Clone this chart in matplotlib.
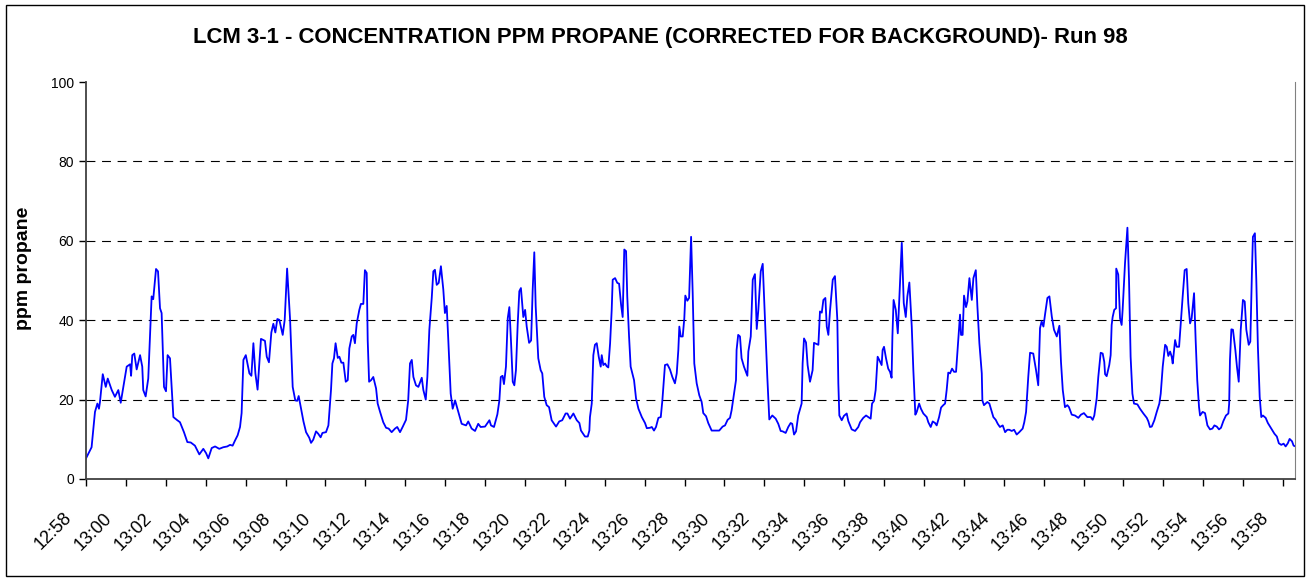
import matplotlib.pyplot as plt
import matplotlib.transforms as mtransforms
from matplotlib.patches import Rectangle

plt.rcParams['font.family'] = ['Liberation Sans', 'DejaVu Sans']

# minutes after 12:58 and ppm propane
minutes = [
    0.00, 0.28, 0.45, 0.57, 0.65, 0.70, 0.84, 0.99, 1.09, 1.29, 1.45, 1.62, 1.74, 1.87,
    2.04, 2.21, 2.26, 2.32, 2.42, 2.54, 2.71, 2.82, 2.87, 2.99, 3.12, 3.29, 3.37, 3.51,
    3.61, 3.71, 3.79, 3.91, 4.01, 4.09, 4.21, 4.38, 4.55, 4.71, 4.91, 5.08, 5.25, 5.46,
    5.68, 5.88, 6.02, 6.13, 6.30, 6.47, 6.68, 6.88, 7.08, 7.22, 7.35, 7.47, 7.60, 7.72,
    7.80, 7.89, 8.01, 8.19, 8.29, 8.39, 8.49, 8.60, 8.77, 8.97, 9.06, 9.17, 9.29, 9.39,
    9.49, 9.59, 9.69, 9.86, 9.96, 10.08, 10.23, 10.36, 10.49, 10.59, 10.66, 10.78, 10.90,
    11.03, 11.19, 11.28, 11.39, 11.53, 11.64, 11.76, 11.85, 12.03, 12.15, 12.28, 12.35,
    12.43, 12.51, 12.62, 12.70, 12.80, 12.90, 13.02, 13.12, 13.20, 13.32, 13.40, 13.48,
    13.57, 13.70, 13.78, 13.90, 13.98, 14.07, 14.12, 14.19, 14.29, 14.40, 14.54, 14.62,
    14.74, 14.90, 15.04, 15.17, 15.32, 15.49, 15.60, 15.74, 15.87, 16.04, 16.15, 16.24,
    16.33, 16.41, 16.54, 16.66, 16.83, 16.91, 17.03, 17.11, 17.21, 17.33, 17.41, 17.49,
    17.58, 17.68, 17.79, 17.91, 17.99, 18.08, 18.16, 18.28, 18.38, 18.50, 18.66, 18.83,
    19.05, 19.16, 19.33, 19.50, 19.66, 19.78, 20.00, 20.22, 20.30, 20.45, 20.62, 20.72,
    20.79, 20.88, 20.95, 21.05, 21.14, 21.22, 21.30, 21.39, 21.47, 21.55, 21.64, 21.72,
    21.80, 21.92, 22.01, 22.09, 22.21, 22.31, 22.39, 22.47, 22.54, 22.67, 22.79, 22.87,
    22.97, 23.09, 23.21, 23.34, 23.56, 23.72, 23.87, 24.04, 24.13, 24.26, 24.43, 24.60,
    24.73, 24.81, 25.01, 25.15, 25.23, 25.26, 25.35, 25.43, 25.51, 25.60, 25.70, 25.80,
    25.85, 25.93, 26.02, 26.10, 26.18, 26.27, 26.35, 26.40, 26.52, 26.63, 26.72, 26.82,
    26.90, 26.98, 27.07, 27.13, 27.22, 27.30, 27.47, 27.57, 27.69, 27.86, 28.02, 28.11,
    28.27, 28.36, 28.47, 28.57, 28.69, 28.81, 28.89, 29.02, 29.14, 29.27, 29.39, 29.52,
    29.61, 29.69, 29.74, 29.81, 29.91, 29.99, 30.04, 30.14, 30.23, 30.28, 30.33, 30.41,
    30.49, 30.61, 30.74, 30.86, 30.94, 31.08, 31.19, 31.36, 31.53, 31.74, 31.91, 32.03,
    32.16, 32.28, 32.36, 32.48, 32.58, 32.61, 32.69, 32.78, 32.86, 32.98, 33.15, 33.20,
    33.32, 33.42, 33.53, 33.62, 33.70, 33.82, 33.92, 34.04, 34.15, 34.25, 34.40, 34.57,
    34.70, 34.82, 34.92, 35.07, 35.20, 35.32, 35.40, 35.49, 35.59, 35.70, 35.87, 35.92,
    35.99, 36.09, 36.17, 36.29, 36.42, 36.49, 36.62, 36.71, 36.79, 36.88, 36.96, 37.06,
    37.13, 37.21, 37.29, 37.43, 37.54, 37.66, 37.71, 37.76, 37.88, 37.99, 38.13, 38.21,
    38.38, 38.55, 38.71, 38.80, 38.96, 39.10, 39.21, 39.33, 39.40, 39.50, 39.58, 39.68,
    39.76, 39.88, 39.93, 40.00, 40.10, 40.21, 40.30, 40.38, 40.42, 40.48, 40.59, 40.69,
    40.77, 40.89, 40.99, 41.09, 41.17, 41.27, 41.39, 41.47, 41.57, 41.64, 41.76, 41.85,
    41.97, 42.14, 42.22, 42.34, 42.44, 42.56, 42.64, 42.76, 42.86, 42.97, 43.06, 43.14,
    43.22, 43.31, 43.41, 43.51, 43.61, 43.72, 43.81, 43.86, 43.94, 44.01, 44.11, 44.18,
    44.28, 44.40, 44.48, 44.60, 44.68, 44.78, 44.90, 44.93, 45.01, 45.18, 45.28, 45.40,
    45.48, 45.60, 45.70, 45.81, 45.95, 46.07, 46.18, 46.28, 46.40, 46.52, 46.65, 46.78,
    46.95, 47.03, 47.12, 47.23, 47.32, 47.48, 47.62, 47.73, 47.82, 47.90, 47.99, 48.07,
    48.19, 48.29, 48.41, 48.52, 48.66, 48.79, 48.87, 48.96, 49.07, 49.19, 49.27, 49.41,
    49.57, 49.74, 49.87, 50.02, 50.19, 50.36, 50.46, 50.54, 50.66, 50.74, 50.86, 50.96,
    51.04, 51.08, 51.16, 51.29, 51.36, 51.41, 51.46, 51.54, 51.63, 51.64, 51.74, 51.83,
    51.91, 51.96, 52.08, 52.20, 52.28, 52.36, 52.45, 52.53, 52.70, 52.83, 53.00, 53.17,
    53.25, 53.33, 53.42, 53.55, 53.67, 53.80, 53.87, 53.97, 54.09, 54.17, 54.25, 54.34,
    54.42, 54.47, 54.59, 54.67, 54.79, 54.89, 54.97, 55.07, 55.17, 55.25, 55.34, 55.42,
    55.54, 55.62, 55.70, 55.79, 55.84, 55.97, 56.09, 56.21, 56.34, 56.46, 56.56, 56.68,
    56.79, 56.89, 57.01, 57.14, 57.26, 57.30, 57.34, 57.41, 57.49, 57.61, 57.69, 57.78,
    57.88, 57.99, 58.08, 58.16, 58.28, 58.36, 58.44, 58.49, 58.59, 58.66, 58.74, 58.83,
    58.91, 58.99, 59.13, 59.24, 59.41, 59.57, 59.69, 59.79, 59.91, 60.03, 60.13, 60.24,
    60.33, 60.45, 60.53, 60.63,
]
ppm = [
    5.2, 8.0, 16.9, 19.0, 17.7, 19.4, 26.4, 23.2, 25.3, 22.4, 20.7, 22.4, 19.2, 23.2,
    28.3, 28.9, 26.0, 31.2, 31.6, 27.6, 31.2, 28.3, 22.4, 20.8, 25.3, 46.0, 45.3, 52.9,
    52.3, 43.0, 41.8, 23.2, 22.1, 31.2, 30.4, 15.6, 14.9, 14.3, 11.8, 9.3, 9.2, 8.4,
    6.2, 7.6, 6.5, 5.2, 7.8, 8.2, 7.6, 8.0, 8.2, 8.6, 8.4, 9.7, 11.0, 13.1,
    16.6, 30.0, 31.2, 26.6, 26.0, 34.2, 26.6, 22.5, 35.3, 34.8, 30.8, 29.4, 36.9, 39.1,
    36.9, 40.3, 40.1, 36.3, 40.1, 53.0, 40.1, 23.2, 19.8, 19.7, 20.9, 17.7, 14.5,
    11.8, 10.4, 9.1, 9.9, 12.0, 11.4, 10.5, 11.6, 11.8, 13.5, 22.4, 29.1,
    30.4, 34.2, 30.5, 30.8, 29.3, 29.3, 24.5, 24.9, 32.9, 35.9, 36.3, 34.2,
    39.2, 42.6, 44.1, 44.1, 52.6, 51.9, 35.0, 24.5, 24.9, 25.7, 22.8, 19.0,
    16.9, 14.3, 12.9, 12.7, 11.8, 12.7, 13.1, 11.8, 13.1, 14.9, 19.8, 29.1,
    30.0, 25.7, 23.6, 23.2, 25.5, 22.4, 20.0, 25.7, 37.6, 45.6, 52.3, 52.7,
    48.9, 49.4, 53.6, 47.7, 41.8, 43.6, 35.0, 21.5, 17.7, 19.8, 16.9, 13.9,
    13.5, 14.5, 12.7, 12.1, 13.9, 13.1, 13.2, 14.8, 13.5, 13.1, 16.3, 19.8,
    25.7, 26.0, 23.9, 28.3, 40.5, 43.3, 35.0, 24.5, 23.6, 27.4, 39.2, 47.3,
    48.1, 40.8, 42.6, 38.4, 34.3, 34.9, 47.7, 57.1, 43.5, 30.4, 27.4, 26.6,
    20.7, 18.6, 18.1, 14.8, 13.2, 14.5, 14.8, 16.5, 16.5, 15.2, 16.5, 14.8,
    14.1, 12.2, 10.7, 10.7, 12.2, 15.6, 19.0, 31.2, 33.8, 34.2, 30.8, 28.3,
    31.2, 28.7, 29.1, 28.4, 28.1, 34.2, 42.6, 50.2, 50.6, 49.4, 49.2, 43.9,
    40.8, 57.8, 57.4, 46.0, 35.9, 28.3, 24.9, 20.3, 17.7, 15.6, 14.1, 12.8,
    12.9, 13.1, 12.2, 13.1, 15.4, 15.6, 19.8, 28.7, 28.9, 27.6, 25.7, 24.1,
    26.6, 32.5, 38.4, 35.9, 35.9, 40.5, 46.2, 44.9, 45.6, 53.6, 61.0, 46.8,
    29.1, 24.1, 21.1, 19.4, 16.6, 15.8, 14.1, 12.2, 12.2, 12.2, 13.2, 13.5,
    14.9, 15.4, 17.3, 21.5, 24.9, 32.5, 36.3, 35.9, 30.4, 28.3, 26.0, 32.1,
    35.9, 50.2, 51.6, 37.8, 42.6, 52.3, 54.2, 39.2, 25.7, 15.0, 16.0, 15.2,
    13.9, 12.1, 12.0, 11.6, 13.1, 14.1, 13.9, 11.2, 12.0, 16.0, 19.0, 29.1,
    35.4, 34.4, 28.7, 24.5, 27.4, 34.3, 34.0, 33.8, 42.2, 41.9, 45.1, 45.6,
    38.4, 36.3, 42.2, 50.2, 51.1, 40.1, 24.1, 16.0, 14.8, 15.9, 16.5, 14.6,
    12.5, 12.1, 13.1, 14.3, 15.4, 16.0, 15.6, 15.2, 19.0, 19.7, 22.4, 30.8,
    30.0, 28.7, 32.5, 33.3, 30.4, 27.8, 27.0, 25.5, 35.9, 45.1, 42.6, 36.7,
    46.0, 59.5, 44.3, 40.8, 46.0, 49.5, 38.4, 27.4, 16.2, 16.9, 19.0, 17.7,
    16.5, 15.6, 14.3, 13.1, 14.5, 14.1, 13.5, 15.6, 18.0, 18.6, 19.0, 22.4,
    26.8, 26.6, 27.8, 27.0, 27.0, 35.0, 41.4, 36.3, 36.3, 46.2, 43.3, 44.7,
    50.6, 45.1, 50.6, 52.6, 43.5, 34.2, 26.6, 19.8, 18.6, 19.4, 19.0, 16.9,
    15.6, 14.9, 13.9, 13.1, 13.5, 11.8, 12.4, 12.4, 12.1, 12.4, 11.2, 11.8,
    12.7, 14.3, 16.9, 25.7, 31.8, 31.6, 27.4, 23.6, 38.0, 39.7, 38.4, 41.4,
    45.6, 46.0, 40.9, 37.6, 35.9, 38.6, 29.5, 22.4, 18.1, 18.6, 18.1, 16.2,
    16.0, 15.4, 16.2, 16.6, 15.6, 15.6, 14.9, 16.0, 20.3, 25.7, 31.8, 31.6,
    29.5, 26.4, 25.9, 28.7, 31.2, 38.8, 40.8, 42.6, 43.0, 53.0, 51.5, 40.5,
    38.8, 42.6, 54.4, 63.3, 50.2, 30.8, 21.5, 19.0, 18.8, 17.7, 16.5, 15.4,
    14.5, 13.1, 13.2, 14.8, 16.9, 19.0, 21.5, 28.3, 33.8, 33.3, 31.0, 32.1,
    30.8, 29.1, 35.0, 33.3, 33.3, 40.5, 46.0, 52.6, 52.9, 44.3, 39.2, 40.5,
    46.8, 35.0, 24.9, 18.1, 16.0, 16.9, 16.6, 13.5, 12.5, 12.7, 13.5, 13.2,
    12.5, 12.9, 14.6, 16.0, 16.5, 19.0, 30.0, 37.7, 37.6, 32.5, 28.3, 24.5,
    37.6, 45.1, 44.7, 37.6, 33.8, 34.6, 51.9, 61.0, 61.9, 50.2, 33.3, 20.7,
    15.6, 16.0, 15.4, 14.1, 12.7, 11.4, 10.7, 9.0, 8.6, 8.9, 8.2, 9.0,
    10.1, 9.5, 8.4, 8.2,
]

tick_minutes = list(range(0, 61, 2))
tick_labels = ['12:58', '13:00', '13:02', '13:04', '13:06', '13:08', '13:10', '13:12',
               '13:14', '13:16', '13:18', '13:20', '13:22', '13:24', '13:26', '13:28',
               '13:30', '13:32', '13:34', '13:36', '13:38', '13:40', '13:42', '13:44',
               '13:46', '13:48', '13:50', '13:52', '13:54', '13:56', '13:58']
y_ticks = [0, 20, 40, 60, 80, 100]

fig = plt.figure(figsize=(13.1, 5.81), dpi=100)
ax = fig.add_axes([86 / 1310, 1 - 479 / 581, (1295 - 86) / 1310, (479 - 82) / 581])

ax.plot(minutes, ppm, color='#0000ff', linewidth=1.3)

ax.set_xlim(0, 60.6)
ax.set_ylim(0, 100)
ax.set_yticks(y_ticks)
ax.set_xticks(tick_minutes)
ax.tick_params(axis='y', labelsize=10, length=5, width=1, direction='out')
ax.tick_params(axis='x', length=5, width=1, direction='out', pad=4)
ax.set_xticklabels(tick_labels, rotation=45, ha='right', fontsize=13)
# excel puts the rotated labels a bit left of and below the tick marks
# (done after tick_params, which resets the label transforms)
shift = mtransforms.ScaledTranslation(-0.11, -0.18, fig.dpi_scale_trans)
for lab in ax.get_xticklabels():
    lab.set_transform(lab.get_transform() + shift)

for v in y_ticks[1:-1]:
    ax.axhline(v, color='black', linewidth=0.8, linestyle=(0, (8, 6)), zorder=0)

ax.spines['top'].set_visible(False)
ax.spines['right'].set_color('#808080')
ax.spines['left'].set_color('#404040')
ax.spines['bottom'].set_color('#404040')
ax.spines['left'].set_linewidth(1.3)
ax.spines['bottom'].set_linewidth(1.3)

ax.set_ylabel('ppm propane', fontsize=14, fontweight='bold')
ax.yaxis.set_label_coords(-0.045, 0.53)
fig.text(660 / 1310, 1 - 38 / 581, 'LCM 3-1 - CONCENTRATION PPM PROPANE (CORRECTED FOR BACKGROUND)- Run 98',
         ha='center', va='center', fontsize=15.9, fontweight='bold')

fig.patches.append(Rectangle((6 / 1310, 5 / 581), 1298 / 1310, 571 / 581,
                             transform=fig.transFigure, fill=False,
                             edgecolor='black', linewidth=1))

fig.savefig('out.png', dpi=100)
